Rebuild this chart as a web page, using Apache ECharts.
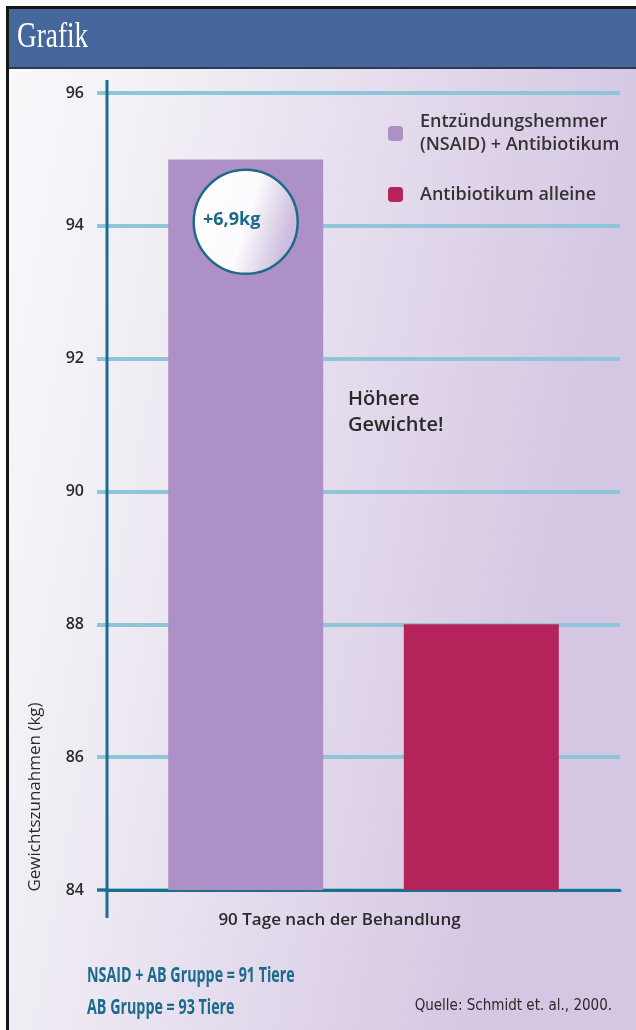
<!DOCTYPE html>
<html><head><meta charset="utf-8">
<script src="https://cdn.jsdelivr.net/npm/echarts@6/dist/echarts.min.js"></script>
<style>html,body{margin:0;padding:0;background:#fff}#c{width:636px;height:1030px}</style>
</head><body><div id="c"></div>
<script>
var categories = ['90 Tage nach der Behandlung'];
var seriesNames = ['Entzündungshemmer (NSAID) + Antibiotikum', 'Antibiotikum alleine'];
var nsaidValues = [95];
var abValues = [88];
var yTicks = {min: 84, max: 96, interval: 2};
var annotationText = '+6,9kg';
var annotationValue = 94.06;

var chart = echarts.init(document.getElementById('c'));
var teal = '#1d6d8d', lightBlue = '#8ec5d9';
chart.setOption({
  animation: false,
  graphic: [
    {type: 'rect', z: -10, shape: {x: 9, y: 69, width: 627, height: 961},
      style: {fill: {type: 'linear', x: 0, y: 0, x2: 1, y2: 0.12, colorStops: [
        {offset: 0, color: '#f9f8fb'}, {offset: 0.3, color: '#f0ecf4'}, {offset: 1, color: '#d5c6e3'}]}}},
    {type: 'rect', z: -5, shape: {x: 9, y: 9, width: 627, height: 59}, style: {fill: '#45679b'}},
    {type: 'rect', z: -5, shape: {x: 9, y: 67, width: 627, height: 2}, style: {fill: '#2a3a55'}},
    {type: 'rect', z: 5, shape: {x: 6, y: 6, width: 3, height: 1024}, style: {fill: '#151515'}},
    {type: 'rect', z: 5, shape: {x: 6, y: 6, width: 630, height: 3}, style: {fill: '#151515'}},
    {type: 'text', z: 10, x: 17, y: 38, scaleX: 0.78, style: {text: 'Grafik', fontFamily: 'Liberation Serif',
      fontSize: 35, fill: '#fff', verticalAlign: 'middle'}},
    {type: 'line', z: 10, shape: {x1: 107, y1: 80, x2: 107, y2: 918}, style: {stroke: teal, lineWidth: 3}},
    {type: 'line', z: 10, shape: {x1: 97, y1: 890, x2: 107, y2: 890}, style: {stroke: teal, lineWidth: 3}},
    {type: 'text', z: 10, left: 348, top: 386, style: {text: 'Höhere\nGewichte!', fontFamily: 'Open Sans',
      fontSize: 20, fontWeight: 600, lineHeight: 26, fill: '#2a2a2a'}},
    {type: 'text', z: 10, x: 35, y: 797, rotation: Math.PI / 2, style: {text: 'Gewichtszunahmen (kg)',
      fontFamily: 'Open Sans', fontSize: 17, fill: '#2a2a2a', align: 'center', verticalAlign: 'middle'}},
    {type: 'text', z: 10, x: 87, y: 976, scaleX: 0.68, style: {text: 'NSAID + AB Gruppe = 91 Tiere',
      fontFamily: 'Open Sans', fontSize: 21, fontWeight: 'bold', fill: '#1a6b8c', verticalAlign: 'middle'}},
    {type: 'text', z: 10, x: 87, y: 1008, scaleX: 0.68, style: {text: 'AB Gruppe = 93 Tiere',
      fontFamily: 'Open Sans', fontSize: 21, fontWeight: 'bold', fill: '#1a6b8c', verticalAlign: 'middle'}},
    {type: 'text', z: 10, right: 24, top: 999, style: {text: 'Quelle: Schmidt et. al., 2000.',
      fontFamily: 'Liberation Sans Narrow, DejaVu Sans Condensed', fontSize: 15, fill: '#2a2a2a'}}
  ],
  legend: [
    {left: 388, top: 113, padding: 0, itemWidth: 15, itemHeight: 15, data: [seriesNames[0]],
      formatter: function () { return 'Entzündungshemmer\n(NSAID) + Antibiotikum'; },
      textStyle: {fontFamily: 'Open Sans', fontSize: 18, fontWeight: 600, color: '#333', lineHeight: 23, padding: [0, 0, -23, 12]}},
    {left: 388, top: 183, padding: 0, itemWidth: 15, itemHeight: 15, data: [seriesNames[1]],
      textStyle: {fontFamily: 'Open Sans', fontSize: 18, fontWeight: 600, color: '#333', lineHeight: 23, padding: [0, 0, 0, 12]}}
  ],
  grid: {left: 107, right: 16, top: 93, bottom: 140},
  xAxis: {type: 'category', data: categories,
    axisLine: {lineStyle: {color: teal, width: 3}}, axisTick: {show: false},
    axisLabel: {margin: 22, fontFamily: 'Open Sans', fontSize: 17, fontWeight: 600, color: '#2a2a2a', padding: [0, 48, 0, 0]}},
  yAxis: {type: 'value', min: yTicks.min, max: yTicks.max, interval: yTicks.interval,
    axisLine: {show: false},
    axisTick: {show: true, length: 10, lineStyle: {color: lightBlue, width: 4}},
    axisLabel: {margin: 23, fontFamily: 'Open Sans', fontSize: 16, fontWeight: 600, color: '#2a2a2a'},
    splitLine: {show: true, lineStyle: {color: lightBlue, width: 4}}},
  series: [
    {type: 'bar', name: seriesNames[0], data: nsaidValues, barWidth: 155, barGap: '52%',
      itemStyle: {color: '#ad91c6'},
      markPoint: {symbol: 'circle', symbolSize: 104,
        data: [{coord: [0, annotationValue]}],
        itemStyle: {borderColor: '#1e6a88', borderWidth: 2.5,
          color: {type: 'linear', x: 0, y: 0, x2: 1, y2: 0.3, colorStops: [
            {offset: 0, color: '#ffffff'}, {offset: 0.6, color: '#fcfbfd'}, {offset: 1, color: '#cdbddf'}]}},
        label: {show: true, formatter: annotationText, offset: [-14, -2], fontFamily: 'Open Sans',
          fontSize: 18, fontWeight: 'bold', color: '#1b6a8a'}}},
    {type: 'bar', name: seriesNames[1], data: abValues, barWidth: 155,
      itemStyle: {color: '#b4235a'}}
  ]
});
</script></body></html>
